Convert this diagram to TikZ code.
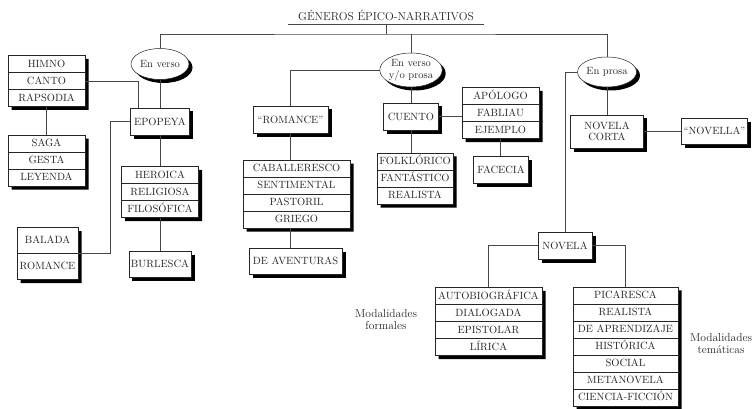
\documentclass[tikz,border=0pt]{standalone}
\usepackage{tikz}
\usetikzlibrary{shapes.geometric,shapes.multipart,shadows}
\definecolor{ink}{HTML}{262626}
\newcommand\fila{\rule[-3pt]{0pt}{12.5pt}}
\tikzset{box/.style={draw=ink,fill=white,line width=0.5pt,inner sep=2pt,minimum height=27pt,align=center,
  font=\fontsize{10.5}{11.5}\selectfont,text=ink,drop shadow={shadow xshift=3.5pt,shadow yshift=-3.5pt,fill=black,opacity=1}},
  listbox/.style={box,rectangle split,minimum height=0pt,inner xsep=1pt,inner ysep=2pt},
  oval/.style={box,ellipse,inner sep=0pt,minimum width=58pt,minimum height=31pt},
  note/.style={align=center,font=\fontsize{11.5}{12}\selectfont,text=ink},
  link/.style={draw=ink!85,line width=0.5pt}}

\begin{document}
\begin{tikzpicture}[x=1pt,y=-1pt]
\useasboundingbox (0,0) rectangle (754,409);
\node[note,font=\fontsize{11.5}{13}\selectfont,minimum width=196pt,minimum height=18pt,inner sep=0pt] (t) at (386,15) {GÉNEROS ÉPICO-NARRATIVOS};
\coordinate (h) at (386,34);
\node[oval] (ev) at (160,64) {En verso};
\node[oval,minimum width=57pt,minimum height=34pt] (evp) at (411,70) {En verso\\y/o prosa};
\node[oval,minimum width=59pt,minimum height=30pt] (ep) at (607,72) {En prosa};
\node[box,minimum width=59pt] (epo) at (160,121.5) {EPOPEYA};
\node[listbox,rectangle split parts=3,text width=75pt] (him) at (46.5,81) {\fila HIMNO\nodepart{two}\fila CANTO\nodepart{three}\fila RAPSODIA};
\node[listbox,rectangle split parts=3,text width=75pt] (sag) at (46.5,160.5) {\fila SAGA\nodepart{two}\fila GESTA\nodepart{three}\fila LEYENDA};
\node[listbox,rectangle split parts=2,text width=59pt,inner ysep=6.5pt] (bal) at (47.5,253.5) {\fila BALADA\nodepart{two}\fila ROMANCE};
\node[listbox,rectangle split parts=3,text width=75pt] (her) at (160,192) {\fila HEROICA\nodepart{two}\fila RELIGIOSA\nodepart{three}\fila FILOSÓFICA};
\node[box,minimum width=61pt,minimum height=26pt] (bur) at (160,264) {BURLESCA};
\node[box,minimum width=75pt] (rom) at (290.5,119.5) {``ROMANCE''};
\node[listbox,rectangle split parts=4,text width=105pt] (cab) at (296.5,194) {\fila CABALLERESCO\nodepart{two}\fila SENTIMENTAL\nodepart{three}\fila PASTORIL\nodepart{four}\fila GRIEGO};
\node[box,minimum width=93pt,minimum height=26pt] (ave) at (295.5,261) {DE AVENTURAS};
\node[box,minimum width=55pt] (cue) at (411,116.5) {CUENTO};
\node[listbox,rectangle split parts=3,text width=74pt] (fol) at (415,178.5) {\fila FOLKLÓRICO\nodepart{two}\fila FANTÁSTICO\nodepart{three}\fila REALISTA};
\node[listbox,rectangle split parts=3,text width=75pt] (apo) at (500.5,113) {\fila APÓLOGO\nodepart{two}\fila FABLIAU\nodepart{three}\fila EJEMPLO};
\node[box,minimum width=55pt] (fac) at (501,169.5) {FACECIA};
\node[box,minimum width=73pt,minimum height=33pt] (nc) at (607,131.5) {NOVELA\\CORTA};
\node[box,minimum width=65pt,minimum height=26pt] (nla) at (714.5,131) {``NOVELLA''};
\node[box,minimum width=54pt] (nov) at (565,245.5) {NOVELA};
\node[listbox,rectangle split parts=4,text width=105pt] (aut) at (488.5,321.5) {\fila AUTOBIOGRÁFICA\nodepart{two}\fila DIALOGADA\nodepart{three}\fila EPISTOLAR\nodepart{four}\fila LÍRICA};
\node[listbox,rectangle split parts=7,text width=103pt] (pic) at (625.5,346.5) {\fila PICARESCA\nodepart{two}\fila REALISTA\nodepart{three}\fila DE APRENDIZAJE\nodepart{four}\fila HISTÓRICA\nodepart{five}\fila SOCIAL\nodepart{six}\fila METANOVELA\nodepart{seven}\fila CIENCIA-FICCIÓN};
\node[note] (mf) at (386,320) {Modalidades\\formales};
\node[note] (mt) at (721,344) {Modalidades\\temáticas};
\draw[link] (t.south west) -- (t.south east);
\draw[link] (t.south) -- (h);
\draw[link] (ev.north) |- (h) -| (ep.north);
\draw[link] (evp.north) -- (evp.north |- h);
\draw[link] (ev.south) -- (epo.north);
\draw[link] (him.east) -| ([xshift=-22pt]epo.north);
\draw[link] (him.south) -- (him.south |- sag.north);
\draw[link] (epo.west) -- ++(-20,0) |- (bal.east);
\draw[link] (epo.south) -- (her.north);
\draw[link] (her.south) -- (bur.north);
\draw[link] (evp.west) -| (rom.north);
\draw[link] (rom.south) -- (rom.south |- cab.north);
\draw[link] (rom.south |- cab.south) -- (rom.south |- ave.north);
\draw[link] (evp.south) -- (cue.north);
\draw[link] (cue.east) -- (cue.east -| apo.west);
\draw[link] (cue.south) -- (cue.south |- fol.north);
\draw[link] (apo.south) -- (apo.south |- fac.north);
\draw[link] (ep.south) -- (nc.north);
\draw[link] (nc.east) -- (nc.east -| nla.west);
\draw[link] (ep.west) -| (nov.north);
\draw[link] (nov.west) -| (aut.north);
\draw[link] (nov.east) -| (pic.north);
\end{tikzpicture}
\end{document}
